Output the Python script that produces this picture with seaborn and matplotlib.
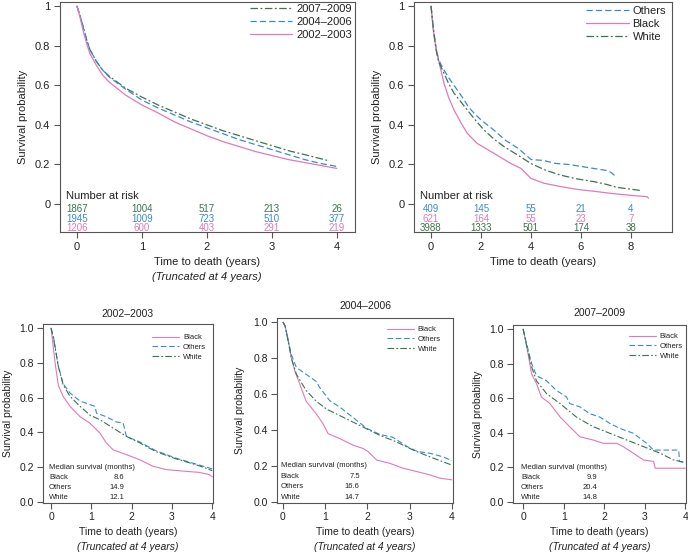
import numpy as np
import pandas as pd
import matplotlib
matplotlib.use("Agg")
import matplotlib.pyplot as plt
import seaborn as sns

# ---- data ----
PINK = "#e07ab8"
BLUE = "#3a8cc8"
GREEN = "#3a7550"

# top-left: survival by period
t_0709 = [0, 0.05, 0.1, 0.15, 0.2, 0.3, 0.4, 0.5, 0.75, 1.0, 1.25, 1.5, 1.75, 2.0, 2.25, 2.5, 2.75, 3.0, 3.25, 3.5, 3.86]
s_0709 = [1, 0.95, 0.89, 0.83, 0.78, 0.72, 0.675, 0.645, 0.585, 0.54, 0.50, 0.465, 0.43, 0.40, 0.37, 0.345, 0.32, 0.295, 0.27, 0.25, 0.22]
t_0406 = [0, 0.05, 0.1, 0.15, 0.2, 0.3, 0.4, 0.5, 0.75, 1.0, 1.25, 1.5, 1.75, 2.0, 2.25, 2.5, 2.75, 3.0, 3.25, 3.5, 3.75, 4.0]
s_0406 = [1, 0.95, 0.89, 0.83, 0.78, 0.72, 0.675, 0.64, 0.58, 0.525, 0.485, 0.45, 0.415, 0.385, 0.355, 0.325, 0.30, 0.275, 0.25, 0.225, 0.205, 0.19]
t_0203 = [0, 0.05, 0.1, 0.15, 0.2, 0.3, 0.4, 0.5, 0.75, 1.0, 1.25, 1.5, 1.75, 2.0, 2.25, 2.5, 2.75, 3.0, 3.25, 3.5, 3.75, 4.0]
s_0203 = [1, 0.94, 0.87, 0.81, 0.76, 0.70, 0.65, 0.615, 0.55, 0.50, 0.46, 0.415, 0.38, 0.345, 0.315, 0.29, 0.265, 0.245, 0.225, 0.21, 0.195, 0.18]

risk_times_tl = [0, 1, 2, 3, 4]
risk_0709 = [1867, 1004, 517, 213, 26]
risk_0406 = [1945, 1009, 723, 510, 377]
risk_0203 = [1206, 600, 403, 291, 219]

# top-right: survival by race, full follow-up
t_others = [0, 0.1, 0.2, 0.3, 0.5, 0.75, 1.0, 1.25, 1.5, 1.75, 2.0, 2.5, 3.0, 3.5, 4.0, 4.5, 5.0, 5.5, 6.0, 6.5, 7.0, 7.2, 7.43]
s_others = [1, 0.88, 0.79, 0.73, 0.68, 0.63, 0.585, 0.54, 0.49, 0.455, 0.425, 0.375, 0.32, 0.28, 0.225, 0.22, 0.205, 0.20, 0.19, 0.18, 0.17, 0.16, 0.135]
t_black = [0, 0.1, 0.2, 0.35, 0.52, 0.7, 0.92, 1.2, 1.45, 1.85, 2.2, 2.52, 3.19, 3.6, 3.99, 4.52, 5.2, 5.85, 6.5, 7.19, 7.9, 8.65, 8.7]
s_black = [1, 0.87, 0.79, 0.70, 0.61, 0.54, 0.475, 0.41, 0.357, 0.306, 0.28, 0.256, 0.205, 0.18, 0.13, 0.105, 0.088, 0.074, 0.065, 0.054, 0.045, 0.037, 0.03]
t_white = [0, 0.1, 0.2, 0.3, 0.52, 0.7, 0.92, 1.2, 1.45, 1.8, 2.12, 2.5, 2.92, 3.5, 3.99, 4.6, 5.19, 5.8, 6.52, 7.0, 7.45, 8.0, 8.45]
s_white = [1, 0.88, 0.78, 0.72, 0.66, 0.61, 0.56, 0.515, 0.475, 0.42, 0.374, 0.33, 0.29, 0.245, 0.205, 0.17, 0.146, 0.128, 0.113, 0.10, 0.084, 0.075, 0.067]

risk_times_tr = [0, 2, 4, 6, 8]
risk_others = [409, 145, 55, 21, 4]
risk_black = [621, 164, 55, 23, 7]
risk_white = [3988, 1333, 501, 174, 38]

# bottom row: by race within each period
t_b_0203 = [0, 0.05, 0.1, 0.18, 0.30, 0.47, 0.72, 0.96, 1.21, 1.37, 1.54, 1.87, 2.2, 2.53, 2.86, 3.35, 3.68, 3.93, 4.0]
s_b_0203 = [1, 0.9, 0.8, 0.67, 0.607, 0.55, 0.49, 0.454, 0.397, 0.34, 0.30, 0.272, 0.243, 0.205, 0.186, 0.176, 0.17, 0.157, 0.144]
t_o_0203 = [0, 0.06, 0.18, 0.30, 0.47, 0.72, 0.96, 1.09, 1.13, 1.37, 1.62, 1.79, 1.87, 2.2, 2.6, 3.1, 3.68, 4.0]
s_o_0203 = [1, 0.95, 0.78, 0.68, 0.626, 0.58, 0.56, 0.55, 0.51, 0.49, 0.46, 0.454, 0.377, 0.345, 0.295, 0.252, 0.212, 0.19]
t_w_0203 = [0, 0.06, 0.18, 0.30, 0.47, 0.72, 0.96, 1.21, 1.54, 1.87, 2.2, 2.6, 3.1, 3.68, 4.0]
s_w_0203 = [1, 0.94, 0.78, 0.674, 0.607, 0.55, 0.50, 0.473, 0.425, 0.377, 0.34, 0.29, 0.248, 0.208, 0.18]

t_b_0406 = [0, 0.05, 0.12, 0.2, 0.28, 0.4, 0.55, 0.79, 0.95, 1.07, 1.35, 1.66, 1.9, 2.02, 2.22, 2.53, 2.85, 3.17, 3.49, 3.72, 4.0]
s_b_0406 = [1, 0.98, 0.91, 0.80, 0.73, 0.655, 0.56, 0.49, 0.435, 0.38, 0.352, 0.316, 0.297, 0.28, 0.233, 0.215, 0.187, 0.169, 0.15, 0.132, 0.123]
t_o_0406 = [0, 0.05, 0.12, 0.2, 0.32, 0.55, 0.79, 0.87, 1.11, 1.35, 1.66, 1.98, 2.3, 2.6, 2.8, 3.0, 3.2, 3.5, 3.8, 4.0]
s_o_0406 = [1, 0.98, 0.90, 0.82, 0.747, 0.71, 0.67, 0.637, 0.563, 0.527, 0.47, 0.41, 0.375, 0.36, 0.33, 0.30, 0.28, 0.27, 0.25, 0.23]
t_w_0406 = [0, 0.05, 0.12, 0.2, 0.32, 0.55, 0.79, 1.03, 1.35, 1.66, 1.98, 2.3, 2.69, 3.09, 3.49, 4.0]
s_w_0406 = [1, 0.98, 0.90, 0.80, 0.71, 0.62, 0.56, 0.517, 0.48, 0.444, 0.407, 0.37, 0.334, 0.288, 0.25, 0.205]

t_b_0709 = [0, 0.08, 0.21, 0.33, 0.45, 0.66, 0.91, 1.15, 1.4, 1.73, 1.98, 2.31, 2.47, 2.72, 2.97, 3.22, 3.26, 4.0]
s_b_0709 = [1, 0.91, 0.74, 0.684, 0.607, 0.569, 0.492, 0.435, 0.377, 0.358, 0.339, 0.339, 0.32, 0.282, 0.243, 0.234, 0.195, 0.195]
t_o_0709 = [0, 0.08, 0.21, 0.33, 0.58, 0.82, 1.07, 1.15, 1.4, 1.65, 1.9, 2.14, 2.39, 2.72, 3.05, 3.22, 3.84, 3.86, 4.0]
s_o_0709 = [1, 0.92, 0.80, 0.73, 0.70, 0.645, 0.607, 0.569, 0.55, 0.51, 0.49, 0.454, 0.425, 0.397, 0.339, 0.30, 0.30, 0.234, 0.228]
t_w_0709 = [0, 0.08, 0.21, 0.33, 0.58, 0.91, 1.32, 1.73, 2.14, 2.56, 2.97, 3.38, 3.71, 4.0]
s_w_0709 = [1, 0.91, 0.78, 0.70, 0.626, 0.569, 0.49, 0.435, 0.397, 0.358, 0.32, 0.282, 0.243, 0.228]

periods = ["2002\u20132003", "2004\u20132006", "2007\u20132009"]
median_black = [8.6, 7.5, 9.9]
median_others = [14.9, 16.6, 20.4]
median_white = [12.1, 14.7, 14.8]

# ---- style ----
sns.set_style("ticks")
plt.rcParams["font.family"] = ["Liberation Sans", "DejaVu Sans"]
plt.rcParams["axes.edgecolor"] = "#555555"
plt.rcParams["axes.linewidth"] = 0.8
plt.rcParams["xtick.color"] = "#555555"
plt.rcParams["ytick.color"] = "#555555"
plt.rcParams["xtick.labelcolor"] = "#222222"
plt.rcParams["ytick.labelcolor"] = "#222222"
plt.rcParams["text.color"] = "#222222"
plt.rcParams["axes.labelcolor"] = "#222222"

W, H = 688, 554
fig = plt.figure(figsize=(W / 100, H / 100), dpi=100)


def add_ax(left, top, right, bottom):
    return fig.add_axes([left / W, 1 - bottom / H, (right - left) / W, (bottom - top) / H])


def curve(ax, t, s, color, ls, label, lw=0.9):
    df = pd.DataFrame({"t": t, "s": s})
    sns.lineplot(data=df, x="t", y="s", ax=ax, color=color, linestyle=ls,
                 linewidth=lw, estimator=None, sort=False, label=label)


def label_px(ax, box, xlab_y, ylab_x, fs):
    left, top, right, bottom = box
    ax.xaxis.set_label_coords(0.5, (bottom - xlab_y) / (bottom - top))
    ax.yaxis.set_label_coords((ylab_x - left) / (right - left), 0.5)
    ax.xaxis.label.set_va("center")
    ax.yaxis.label.set_va("center")
    ax.xaxis.label.set_fontsize(fs)
    ax.yaxis.label.set_fontsize(fs)


def legend_px(ax, box, x_px, y_px, **kw):
    # anchor the legend's upper right corner at a pixel position
    left, top, right, bottom = box
    ax.legend(loc="upper right", frameon=False, borderaxespad=0, borderpad=0,
              bbox_to_anchor=((x_px - left) / (right - left), (bottom - y_px) / (bottom - top)),
              **kw)


dash = (0, (5, 2.5))
dashdot = (0, (6, 2, 1.5, 2))

# ---- top-left ----
box = (60, 2, 355, 232)
ax = add_ax(*box)
curve(ax, t_0709, s_0709, GREEN, dashdot, periods[2])
curve(ax, t_0406, s_0406, BLUE, dash, periods[1])
curve(ax, t_0203, s_0203, PINK, "-", periods[0])
ax.set_xlim(-0.26, 4.28)
ax.set_ylim(-0.141, 1.02)
ax.set_xticks([0, 1, 2, 3, 4])
ax.set_yticks([0, 0.2, 0.4, 0.6, 0.8, 1])
ax.set_yticklabels(["0", "0.2", "0.4", "0.6", "0.8", "1"])
ax.tick_params(labelsize=8, length=4, width=0.8, pad=3)
ax.set_xlabel("Time to death (years)")
ax.set_ylabel("Survival probability")
label_px(ax, box, 262, 23, 8)
legend_px(ax, box, 352, 4, fontsize=8, handlelength=3.8, handletextpad=0.35, labelspacing=0.25)
ax.text(-0.17, 0.04, "Number at risk", fontsize=8, va="center", ha="left")
for row_y, vals, col in [(-0.027, risk_0709, GREEN), (-0.073, risk_0406, BLUE), (-0.121, risk_0203, PINK)]:
    for x, v in zip(risk_times_tl, vals):
        ax.text(x, row_y, str(v), fontsize=7, color=col, ha="center", va="center")
fig.text(207 / W, 1 - 277 / H, "(Truncated at 4 years)", fontsize=8, style="italic",
         ha="center", va="center")

# ---- top-right ----
box = (414, 2, 672, 232)
ax = add_ax(*box)
curve(ax, t_others, s_others, BLUE, dash, "Others")
curve(ax, t_black, s_black, PINK, "-", "Black")
curve(ax, t_white, s_white, GREEN, dashdot, "White")
ax.set_xlim(-0.68, 9.64)
ax.set_ylim(-0.141, 1.02)
ax.set_xticks([0, 2, 4, 6, 8])
ax.set_yticks([0, 0.2, 0.4, 0.6, 0.8, 1])
ax.set_yticklabels(["0", "0.2", "0.4", "0.6", "0.8", "1"])
ax.tick_params(labelsize=8, length=4, width=0.8, pad=3)
ax.set_xlabel("Time to death (years)")
ax.set_ylabel("Survival probability")
label_px(ax, box, 262, 377, 8)
legend_px(ax, box, 666, 6, fontsize=8, handlelength=3.8, handletextpad=0.35, labelspacing=0.25)
ax.text(-0.44, 0.04, "Number at risk", fontsize=8, va="center", ha="left")
for row_y, vals, col in [(-0.027, risk_others, BLUE), (-0.073, risk_black, PINK), (-0.121, risk_white, GREEN)]:
    for x, v in zip(risk_times_tr, vals):
        ax.text(x, row_y, str(v), fontsize=7, color=col, ha="center", va="center")

# ---- bottom row ----
bottom_boxes = [(43, 324, 213, 503), (277, 318, 453, 503), (513, 325, 686, 503)]
bottom_xlim = [(-0.2, 4.02), (-0.14, 4.03), (-0.25, 4.02)]
title_y = [314, 306, 313]
ylab_x = [8, 240, 478]
legend_pos = [(206, 334), (441, 326), (683, 333)]
series = [
    (t_b_0203, s_b_0203, t_o_0203, s_o_0203, t_w_0203, s_w_0203),
    (t_b_0406, s_b_0406, t_o_0406, s_o_0406, t_w_0406, s_w_0406),
    (t_b_0709, s_b_0709, t_o_0709, s_o_0709, t_w_0709, s_w_0709),
]
for i, box in enumerate(bottom_boxes):
    ax = add_ax(*box)
    tb, sb, to, so_, tw, sw = series[i]
    curve(ax, tb, sb, PINK, "-", "Black", lw=0.8)
    curve(ax, to, so_, BLUE, dash, "Others", lw=0.8)
    curve(ax, tw, sw, GREEN, dashdot, "White", lw=0.8)
    ax.set_xlim(*bottom_xlim[i])
    ax.set_ylim(-0.006, 1.023)
    ax.set_xticks([0, 1, 2, 3, 4])
    ax.set_yticks([0, 0.2, 0.4, 0.6, 0.8, 1.0])
    ax.set_yticklabels(["0.0", "0.2", "0.4", "0.6", "0.8", "1.0"])
    ax.tick_params(labelsize=7.5, length=4, width=0.8, pad=2.5)
    ax.set_xlabel("Time to death (years)")
    ax.set_ylabel("Survival probability")
    label_px(ax, box, 532, ylab_x[i], 7.5)
    cx = (box[0] + box[2]) / 2
    fig.text(cx / W, 1 - title_y[i] / H, periods[i], fontsize=7.5, ha="center", va="center")
    fig.text(cx / W, 1 - 547 / H, "(Truncated at 4 years)", fontsize=7.5, style="italic",
             ha="center", va="center")
    legend_px(ax, box, legend_pos[i][0], legend_pos[i][1], fontsize=5.5, handlelength=3.5,
              handletextpad=0.5, labelspacing=0.3)
    ax.text(-0.05, 0.20, "Median survival (months)", fontsize=5.5, va="center", ha="left")
    for row_y, name, vals in [(0.142, "Black", median_black), (0.084, "Others", median_others),
                              (0.024, "White", median_white)]:
        ax.text(-0.05, row_y, name, fontsize=5.5, va="center", ha="left")
        ax.text(1.82, row_y, f"{vals[i]:.1f}", fontsize=5.5, va="center", ha="right")

fig.savefig("out.png", dpi=100)
